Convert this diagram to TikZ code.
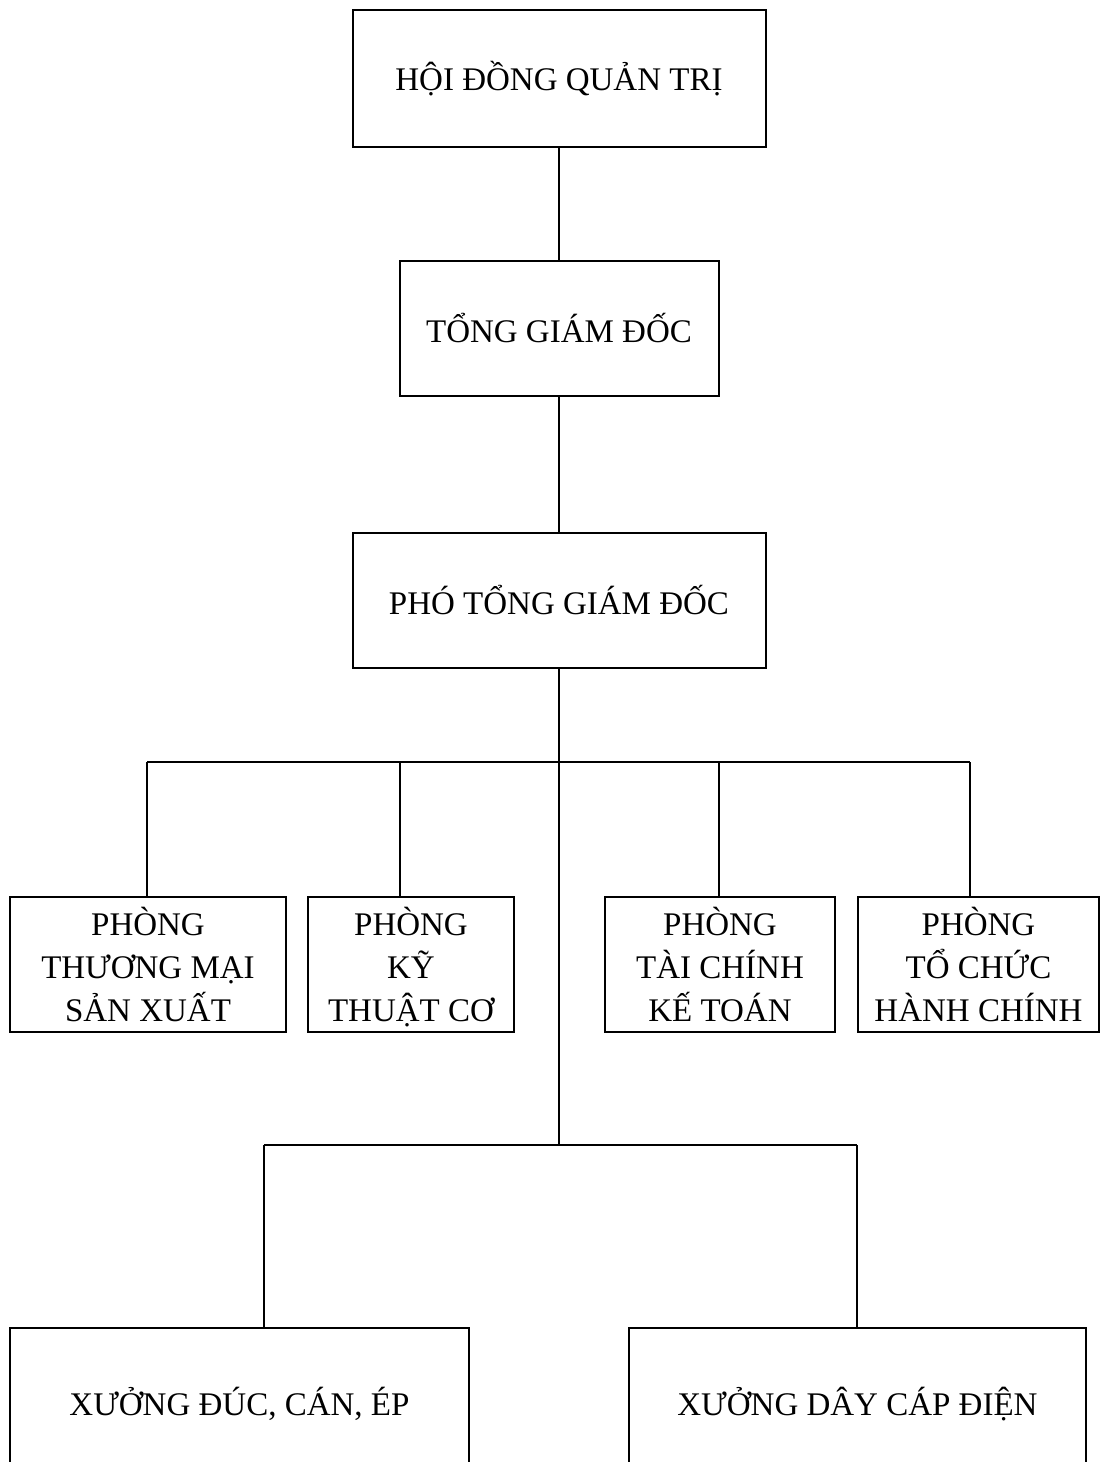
\documentclass[tikz,border=0pt]{standalone}
\usepackage{fontspec}
\setmainfont{Liberation Serif}
\newcommand{\nodepth}[1]{\raisebox{0pt}[\height][0pt]{#1}}
\begin{document}
\begin{tikzpicture}[x=1pt,y=-1pt,
  box/.style={draw,line width=2pt,rectangle,inner sep=0pt,align=center,
    font=\fontsize{33}{43}\selectfont},
  conn/.style={line width=2pt}]
\useasboundingbox (0,0) rectangle (1101,1462);
\clip (0,0) rectangle (1101,1462);
\fill[white] (0,0) rectangle (1101,1462);
% top chain
\node[box,minimum width=413pt,minimum height=137pt] (hdqt) at (559,78.5) {HỘI ĐỒNG QUẢN TRỊ};
\node[box,minimum width=319pt,minimum height=135pt] (tgd) at (559,328.5) {TỔNG GIÁM ĐỐC};
\node[box,minimum width=413pt,minimum height=135pt] (ptgd) at (559,600.5) {PHÓ TỔNG GIÁM ĐỐC};
% departments
\node[box,minimum width=276pt,minimum height=135pt] (p1) at (148,964.5) {PHÒNG\\THƯƠNG MẠI\\\nodepth{SẢN XUẤT}};
\node[box,minimum width=206pt,minimum height=135pt] (p2) at (411,964.5) {PHÒNG\\KỸ\\\nodepth{THUẬT CƠ}};
\node[box,minimum width=230pt,minimum height=135pt] (p3) at (720,964.5) {PHÒNG\\TÀI CHÍNH\\\nodepth{KẾ TOÁN}};
\node[box,minimum width=241pt,minimum height=135pt] (p4) at (978.5,964.5) {PHÒNG\\TỔ CHỨC\\\nodepth{HÀNH CHÍNH}};
% workshops
\node[box,minimum width=459pt,minimum height=152pt] (x1) at (239.5,1404) {XƯỞNG ĐÚC, CÁN, ÉP};
\node[box,minimum width=457pt,minimum height=152pt] (x2) at (857.5,1404) {XƯỞNG DÂY CÁP ĐIỆN};
% coordinates
\coordinate (b1) at (147,762);
\coordinate (b2) at (400,762);
\coordinate (b3) at (719,762);
\coordinate (b4) at (970,762);
\coordinate (split) at (559,1145);
\coordinate (c1) at (264,1145);
\coordinate (c2) at (857,1145);
% connectors
\draw[conn] (hdqt.south) -- (tgd.north);
\draw[conn] (tgd.south) -- (ptgd.north);
\draw[conn] (ptgd.south) -- (split);
\draw[conn] (b1) -- (b4);
\draw[conn] (b1) -- (b1 |- p1.north);
\draw[conn] (b2) -- (b2 |- p2.north);
\draw[conn] (b3) -- (b3 |- p3.north);
\draw[conn] (b4) -- (b4 |- p4.north);
\draw[conn] (c1) -- (c2);
\draw[conn] (c1) -- (c1 |- x1.north);
\draw[conn] (c2) -- (c2 |- x2.north);
\end{tikzpicture}
\end{document}
